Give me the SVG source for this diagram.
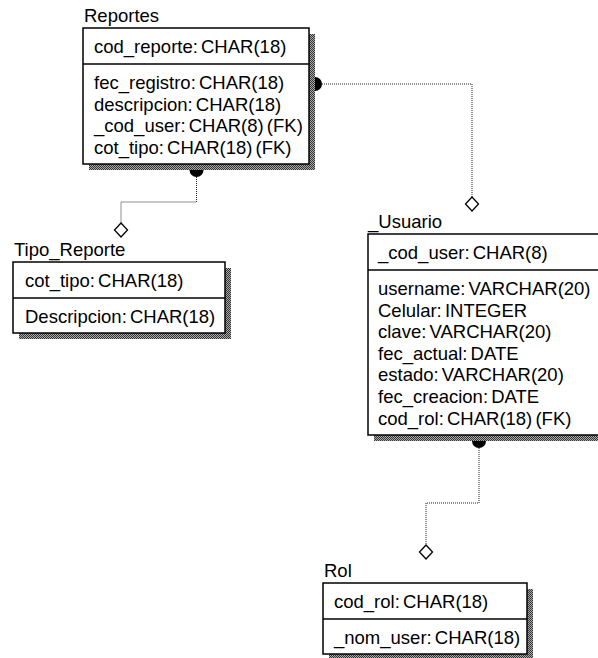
<svg xmlns="http://www.w3.org/2000/svg" width="598" height="658" viewBox="0 0 598 658">
<style>
text{font-family:"Liberation Sans",Arial,sans-serif;font-size:18.5px;word-spacing:-2px;fill:#000}
.box{fill:#fff;stroke:#000;stroke-width:1.5}
.div{stroke:#000;stroke-width:1.5}
.sh{fill:url(#dither)}
.conn{fill:none;stroke:#222;stroke-width:1;stroke-dasharray:1 1}
.dot{fill:#000}
.dia{fill:#fff;stroke:#000;stroke-width:1.3}
</style>
<defs>
<pattern id="dither" width="2" height="2" patternUnits="userSpaceOnUse">
<rect width="2" height="2" fill="#aaa"/>
<rect width="1" height="1" fill="#333"/>
<rect x="1" y="1" width="1" height="1" fill="#333"/>
</pattern>
</defs>
<g id="connectors">
<path class="dot" d="M315,77 A7,7 0 0 1 315,91 Z"/>
<path class="conn" d="M322,84 H472 V197"/>
<path class="dia" d="M472,197 L478.5,204 L472,211 L465.5,204 Z"/>
<path class="dot" d="M189.5,170 A7,7 0 0 0 203.5,170 Z"/>
<path class="conn" d="M196.5,177 V202 H121 V223"/>
<path class="dia" d="M121,223 L127.5,230 L121,237 L114.5,230 Z"/>
<path class="dot" d="M472,441 A7,7 0 0 0 486,441 Z"/>
<path class="conn" d="M479,448 V503 H426 V545"/>
<path class="dia" d="M426,545 L432.5,552 L426,559 L419.5,552 Z"/>
</g>
<g id="Reportes">
<text x="84" y="22">Reportes</text>
<rect class="sh" x="89" y="34" width="226" height="136"/>
<rect class="box" x="83" y="28" width="226" height="136"/>
<line class="div" x1="83" y1="64" x2="309" y2="64"/>
<text x="94" y="53">cod_reporte: CHAR(18)</text>
<text x="94" y="89">fec_registro: CHAR(18)</text>
<text x="94" y="110.7">descripcion: CHAR(18)</text>
<text x="94" y="132.3">_cod_user: CHAR(8) (FK)</text>
<text x="94" y="154">cot_tipo: CHAR(18) (FK)</text>
</g>
<g id="Tipo_Reporte">
<text x="14" y="256">Tipo_Reporte</text>
<rect class="sh" x="19" y="268" width="212" height="71"/>
<rect class="box" x="13" y="262" width="212" height="71"/>
<line class="div" x1="13" y1="298" x2="225" y2="298"/>
<text x="25" y="287">cot_tipo: CHAR(18)</text>
<text x="25" y="323">Descripcion: CHAR(18)</text>
</g>
<g id="Usuario">
<text x="368" y="228">_Usuario</text>
<rect class="sh" x="374" y="240" width="240" height="201"/>
<rect class="box" x="368" y="234" width="240" height="201"/>
<line class="div" x1="368" y1="270" x2="608" y2="270"/>
<text x="378" y="259">_cod_user: CHAR(8)</text>
<text x="378" y="295">username: VARCHAR(20)</text>
<text x="378" y="316.6">Celular: INTEGER</text>
<text x="378" y="338.2">clave: VARCHAR(20)</text>
<text x="378" y="359.8">fec_actual: DATE</text>
<text x="378" y="381.4">estado: VARCHAR(20)</text>
<text x="378" y="403">fec_creacion: DATE</text>
<text x="378" y="424.6">cod_rol: CHAR(18) (FK)</text>
</g>
<g id="Rol">
<text x="324" y="577">Rol</text>
<rect class="sh" x="329" y="589" width="204" height="71"/>
<rect class="box" x="323" y="583" width="204" height="71"/>
<line class="div" x1="323" y1="619" x2="527" y2="619"/>
<text x="334" y="608">cod_rol: CHAR(18)</text>
<text x="334" y="644">_nom_user: CHAR(18)</text>
</g>
</svg>
